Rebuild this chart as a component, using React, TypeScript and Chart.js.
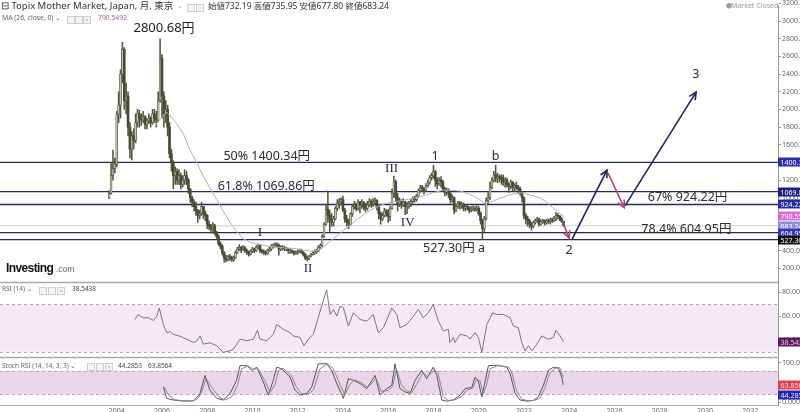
import React, { useEffect, useRef } from "react";
import { Chart, registerables } from "chart.js";

Chart.register(...registerables);

// ---------------- data ----------------
const START_YEAR = 2003;
const START_MONTH = 8; // September (0-based)
const FIRST_OPEN = 1000;

const closes = [
  1050, 1250, 1330, 1380,
  1950, 2050, 2400, 2680, 2100, 2150, 1800, 1550, 1700, 1650, 1850, 1950,
  1900, 1880, 1920, 1830, 1870, 1900, 1850, 1950, 1900, 1880, 2100, 2580,
  2150, 1950, 2000, 1800, 1500, 1400, 1250, 1300, 1200, 1250, 1150, 1200,
  1250, 1200, 1100, 1000, 950, 900, 850, 800, 820, 900, 820, 800,
  700, 680, 650, 680, 600, 560, 480, 450, 380, 320, 300, 330,
  320, 300, 320, 380, 420, 440, 410, 430, 400, 390, 360, 390,
  420, 400, 440, 460, 400, 390, 380, 370, 400, 420, 450, 460,
  470, 460, 420, 440, 430, 420, 420, 400, 400, 390, 370, 380,
  390, 400, 380, 360, 320, 310, 340, 360, 380, 390, 400, 440,
  460, 560, 700, 870, 800, 750, 720, 760, 880, 930, 950, 980,
  860, 760, 730, 700, 820, 900, 920, 880, 950, 920, 940, 900,
  880, 920, 960, 930, 950, 970, 900, 820, 760, 800, 850, 820,
  790, 880, 1050, 1180, 1000, 930, 960, 920, 950, 900, 920, 930,
  960, 990, 980, 1020, 1080, 1120, 1100, 1080, 1140, 1170, 1230, 1250,
  1300, 1200, 1160, 1200, 1180, 1100, 1060, 1080, 1050, 980, 1000, 860,
  900, 940, 920, 920, 880, 900, 890, 860, 870, 880, 870, 880,
  820, 740, 650, 760, 970, 1000, 1120, 1200, 1260, 1220, 1240, 1230,
  1210, 1180, 1200, 1150, 1130, 1180, 1120, 1140, 1120, 1100, 1060, 1000,
  800, 760, 740, 700, 680, 720, 740, 760, 700, 730, 740, 720,
  740, 730, 750, 740, 760, 800, 790, 760, 732.19, 683.24,
];

const highs = [
  1080, 1400, 1540, 1450,
  1980, 2200, 2450, 2760, 2700, 2300, 2200, 1850, 1750, 1780, 1950, 2000,
  1990, 1950, 1980, 1930, 1900, 1950, 1920, 2000, 2000, 1980, 2200, 2800.68,
  2620, 2200, 2100, 2050, 1850, 1550, 1420, 1350, 1330, 1320, 1280, 1250,
  1320, 1300, 1220, 1100, 1020, 980, 950, 870, 860, 950, 900, 850,
  810, 740, 700, 720, 700, 620, 580, 500, 470, 390, 350, 350,
  360, 340, 340, 400, 440, 470, 450, 460, 450, 420, 400, 410,
  440, 430, 460, 480, 470, 420, 410, 400, 420, 440, 470, 480,
  490, 490, 480, 460, 460, 450, 440, 430, 420, 410, 400, 400,
  410, 420, 420, 390, 370, 340, 350, 370, 390, 410, 420, 460,
  480, 580, 720, 920, 1078, 860, 820, 790, 900, 980, 990, 1000,
  1020, 880, 800, 760, 830, 920, 960, 940, 980, 960, 980, 960,
  940, 960, 990, 980, 990, 1000, 980, 920, 840, 830, 880, 870,
  870, 900, 1100, 1245, 1200, 1050, 1000, 980, 990, 960, 950, 960,
  980, 1010, 1020, 1040, 1100, 1140, 1140, 1120, 1160, 1200, 1250, 1280,
  1367, 1310, 1230, 1230, 1240, 1200, 1120, 1110, 1100, 1060, 1030, 1010,
  930, 960, 960, 950, 940, 920, 930, 900, 900, 910, 900, 910,
  900, 840, 760, 790, 1000, 1060, 1180, 1230, 1300, 1370, 1280, 1260,
  1260, 1260, 1230, 1220, 1170, 1200, 1180, 1160, 1180, 1140, 1120, 1070,
  1010, 820, 790, 760, 720, 740, 760, 780, 770, 750, 760, 750,
  760, 760, 770, 770, 790, 833, 820, 800, 780, 735.95,
];

const lows = [
  990, 1040, 1200, 1280,
  1350, 1850, 1900, 2300, 2000, 1950, 1700, 1450, 1430, 1550, 1620, 1800,
  1800, 1820, 1850, 1780, 1780, 1840, 1800, 1830, 1850, 1800, 1860, 2080,
  1900, 1800, 1850, 1700, 1450, 1300, 1100, 1150, 1150, 1150, 1100, 1120,
  1150, 1150, 1050, 950, 900, 850, 800, 720, 760, 800, 760, 740,
  650, 640, 600, 620, 580, 540, 460, 420, 350, 270, 275, 285,
  290, 280, 280, 310, 370, 400, 380, 400, 380, 360, 340, 350,
  380, 380, 390, 420, 380, 370, 360, 350, 360, 390, 400, 430,
  440, 440, 350, 400, 410, 400, 400, 370, 370, 370, 350, 360,
  360, 380, 370, 340, 300, 285, 300, 330, 350, 360, 370, 390,
  420, 450, 550, 690, 720, 620, 680, 680, 750, 850, 880, 920,
  840, 720, 680, 650, 690, 790, 870, 850, 860, 830, 880, 860,
  840, 860, 900, 890, 900, 920, 860, 760, 700, 740, 780, 790,
  720, 740, 870, 1000, 960, 850, 900, 880, 900, 810, 820, 880,
  900, 940, 950, 960, 1000, 1060, 1070, 1040, 1070, 1120, 1150, 1200,
  1220, 1130, 1100, 1140, 1120, 1080, 1020, 1030, 1000, 940, 950, 820,
  840, 880, 870, 880, 850, 850, 860, 830, 840, 850, 845, 850,
  800, 700, 527.3, 620, 750, 930, 980, 1100, 1180, 1180, 1170, 1180,
  1150, 1140, 1120, 1120, 1060, 1100, 1080, 1080, 1090, 1050, 1030, 950,
  760, 700, 680, 660, 632, 660, 700, 720, 680, 690, 710, 690,
  700, 710, 700, 720, 730, 740, 760, 740, 720, 677.8,
];

// MA(26): [year, value]
const maPoints = [
  [2005.72, 1820], [2005.95, 1900], [2006.2, 1970], [2006.45, 1900], [2006.65, 1840],
  [2006.95, 1720], [2007.24, 1541], [2007.55, 1390], [2007.83, 1243], [2008.1, 1120],
  [2008.42, 982], [2008.7, 850], [2009.01, 722], [2009.3, 620], [2009.6, 535],
  [2009.9, 495], [2010.19, 479], [2010.6, 455], [2011.07, 442], [2011.5, 430],
  [2011.96, 423], [2012.3, 405], [2012.6, 395], [2012.9, 405], [2013.13, 440],
  [2013.57, 535], [2013.87, 600], [2014.31, 688], [2014.7, 770], [2015.05, 833],
  [2015.4, 885], [2015.77, 926], [2016.15, 950], [2016.52, 964], [2016.9, 985],
  [2017.26, 1001], [2017.6, 1025], [2017.99, 1057], [2018.44, 1087], [2018.8, 1085],
  [2019.18, 1076], [2019.5, 1050], [2019.77, 1020], [2020.0, 985], [2020.21, 945],
  [2020.45, 948], [2020.65, 964], [2020.95, 995], [2021.24, 1020], [2021.55, 1045],
  [2021.83, 1057], [2022.1, 1045], [2022.42, 1020], [2022.7, 1000], [2023.01, 950],
  [2023.3, 880], [2023.6, 815], [2023.75, 790.55],
];

const rsiPoints = [
  [2004.81, 57.2], [2004.95, 61.4], [2005.17, 58.6], [2005.4, 58.6], [2005.62, 56.4],
  [2005.77, 60], [2005.88, 66.9], [2006.06, 53], [2006.21, 46.1], [2006.36, 47],
  [2006.5, 44.7], [2006.8, 43], [2007.09, 40.6], [2007.39, 37.8], [2007.54, 39],
  [2007.68, 43.3], [2007.83, 36.4], [2008.12, 37.5], [2008.42, 35], [2008.71, 29.4],
  [2009.01, 30.8], [2009.15, 32], [2009.45, 40.6], [2009.75, 39.2], [2010.04, 40.6],
  [2010.22, 48], [2010.33, 40.6], [2010.63, 39.2], [2010.92, 44.7], [2011.07, 53],
  [2011.36, 48.9], [2011.66, 46.1], [2011.81, 43.3], [2012.1, 42], [2012.28, 35],
  [2012.47, 40.6], [2012.69, 44.7], [2012.99, 64.2], [2013.28, 82.2], [2013.43, 61.4],
  [2013.58, 65.6], [2013.73, 60], [2013.87, 68.3], [2014.02, 67], [2014.24, 51.7],
  [2014.46, 62.8], [2014.76, 57.2], [2015.05, 55.8], [2015.34, 61.4], [2015.56, 46.1],
  [2015.79, 50.3], [2016.16, 66.9], [2016.38, 61.4], [2016.52, 50.3], [2016.82, 53],
  [2017.11, 60], [2017.33, 65.6], [2017.55, 58.6], [2017.77, 62.8], [2017.99, 69.7],
  [2018.22, 55.8], [2018.44, 47.5], [2018.66, 48.9], [2018.73, 37.8], [2018.88, 41.9],
  [2018.95, 37.8], [2019.18, 44.7], [2019.47, 43.3], [2019.62, 40.6], [2019.84, 46.1],
  [2019.99, 41.9], [2020.14, 29.4], [2020.36, 53], [2020.62, 62.8], [2020.8, 61.4],
  [2021.09, 61.4], [2021.39, 58.6], [2021.53, 51.7], [2021.75, 50.3], [2021.9, 37.8],
  [2022.05, 30.8], [2022.2, 35], [2022.35, 30.8], [2022.57, 36.4], [2022.79, 43.3],
  [2022.93, 41.9], [2023.08, 40.6], [2023.3, 41.9], [2023.41, 48], [2023.6, 43.3],
  [2023.74, 38.5438],
];

const stochK = [
  [2006.06, 39], [2006.21, 10], [2006.5, 5.8], [2006.94, 3], [2007.39, 4],
  [2007.54, 12], [2007.68, 22.5], [2007.9, 68], [2008.12, 30.8], [2008.42, 10],
  [2008.71, 5.8], [2009.01, 22.5], [2009.3, 55.8], [2009.45, 93], [2009.75, 93],
  [2009.97, 80.8], [2010.19, 89], [2010.48, 51.5], [2010.7, 18.3], [2010.92, 55.8],
  [2011.07, 89], [2011.29, 85], [2011.66, 64], [2011.88, 30.8], [2012.1, 18.3],
  [2012.4, 22.5], [2012.62, 39], [2012.91, 97.5], [2013.28, 98], [2013.5, 80.8],
  [2013.73, 47.5], [2014.02, 10], [2014.24, 60], [2014.46, 55.8], [2014.76, 47.5],
  [2015.05, 35], [2015.42, 68], [2015.64, 18.3], [2015.94, 35], [2016.16, 43],
  [2016.3, 97.5], [2016.52, 35], [2016.74, 26.5], [2016.97, 22.5], [2017.19, 55.8],
  [2017.48, 80.8], [2017.7, 60], [2017.99, 89], [2018.14, 70], [2018.37, 5.8],
  [2018.59, 3], [2018.88, 5.8], [2019.18, 18.3], [2019.4, 35], [2019.69, 37],
  [2019.84, 64], [2019.99, 52], [2020.14, 14], [2020.28, 52], [2020.43, 93],
  [2020.8, 94], [2021.24, 89], [2021.39, 72.5], [2021.61, 22.5], [2021.83, 5.8],
  [2022.13, 3], [2022.42, 5], [2022.64, 14], [2022.86, 43], [2023.08, 80.8],
  [2023.3, 89], [2023.52, 87], [2023.67, 64], [2023.74, 44.2853],
];

const stochD = [
  [2006.1, 38], [2006.3, 18], [2006.55, 7], [2006.94, 4], [2007.39, 4],
  [2007.6, 10], [2007.75, 25], [2007.95, 60], [2008.2, 38], [2008.5, 14],
  [2008.8, 6], [2009.1, 15], [2009.35, 45], [2009.52, 85], [2009.8, 92],
  [2010.03, 84], [2010.25, 85], [2010.55, 55], [2010.78, 25], [2011.0, 45],
  [2011.15, 80], [2011.35, 86], [2011.72, 68], [2011.95, 38], [2012.17, 22],
  [2012.45, 20], [2012.7, 32], [2012.98, 85], [2013.32, 97], [2013.56, 86],
  [2013.8, 55], [2014.08, 18], [2014.3, 45], [2014.5, 57], [2014.8, 50],
  [2015.1, 38], [2015.47, 60], [2015.7, 28], [2015.99, 30], [2016.2, 40],
  [2016.36, 85], [2016.58, 45], [2016.8, 30], [2017.03, 24], [2017.25, 45],
  [2017.53, 75], [2017.75, 65], [2018.04, 82], [2018.2, 75], [2018.43, 15],
  [2018.65, 5], [2018.93, 6], [2019.24, 14], [2019.45, 30], [2019.74, 36],
  [2019.9, 58], [2020.05, 55], [2020.2, 22], [2020.34, 42], [2020.5, 85],
  [2020.85, 93], [2021.3, 90], [2021.45, 78], [2021.67, 30], [2021.9, 8],
  [2022.18, 4], [2022.47, 5], [2022.7, 10], [2022.92, 35], [2023.13, 72],
  [2023.36, 86], [2023.58, 88], [2023.74, 63.8564],
];

const fibLevels = [1400.34, 1069.86, 924.22, 604.95, 527.3];
const currentPrice = 683.24;

// projected wave path drawn on the chart: [year, price] pairs
const arrowPaths = [
  [[2023.69, 744], [2024.0, 543]],
  [[2024.13, 531], [2025.67, 1313]],
  [[2025.72, 1280], [2026.43, 889]],
  [[2026.47, 911], [2029.61, 2196]],
];
const arrowKinds = ["down", "up", "down", "up"];

// chart annotations: text + anchor in [year, price]
const labelTexts = ["2800.68円", "50% 1400.34円", "61.8% 1069.86円", "III", "1", "b", "IV", "I", "II", "527.30円 a", "2", "3", "67% 924.22円", "78.4% 604.95円"];
const labelAnchors = [
  [2006.09, 2919], [2010.63, 1473], [2010.61, 1131], [2016.15, 1336], [2018.07, 1473],
  [2020.75, 1473], [2016.86, 722], [2010.33, 610], [2012.46, 200], [2018.91, 423],
  [2024.0, 405], [2029.6, 2398], [2029.23, 1001], [2029.18, 647],
];
const romanLabels = ["III", "IV", "I", "II"];

const yearTicks = [2004, 2006, 2008, 2010, 2012, 2014, 2016, 2018, 2020, 2022, 2024, 2026, 2028, 2030, 2032];
const priceTicks = [200, 400, 600, 800, 1000, 1200, 1400, 1600, 1800, 2000, 2200, 2400, 2600, 2800, 3000, 3200];
const rsiTicks = [40, 60, 80];
const stochTicks = [0, 100];

const axisMarkValues = [1400.34, 1069.86, 924.22, 790.5492, 683.24, 604.95, 527.3];
const rsiLast = 38.5438;
const stochLast = [63.8564, 44.2853];

// ---------------- styles ----------------
const FONT = '"Noto Sans", "Noto Sans CJK JP", sans-serif';
const X_MIN = 1998.84;
const X_MAX = 2033.23;
const axisMarkBg = ["#2d2da8", "#1d1d80", "#2a2aa6", "#e06ad8", "#8f8fcf", "#3636bd", "#111111"];
const axisMarkFg = ["#fff", "#fff", "#fff", "#fff", "#fff", "#fff", "#fff"];

function buildConfig() {
  const monthX = closes.map((_, i) => START_YEAR + (START_MONTH + i) / 12);
  const opens = closes.map((_, i) => (i === 0 ? FIRST_OPEN : closes[i - 1]));
  const up = closes.map((c, i) => c >= opens[i]);

  const datasets: any[] = [];
  fibLevels.forEach((v) => {
    datasets.push({
      type: "line", data: [{ x: X_MIN, y: v }, { x: X_MAX, y: v }], yAxisID: "y",
      borderColor: "#2a2a58", borderWidth: 1.3, pointRadius: 0, order: 6,
    });
  });
  datasets.push({
    type: "line", data: [{ x: X_MIN, y: currentPrice }, { x: X_MAX, y: currentPrice }], yAxisID: "y",
    borderColor: "#d0d0d0", borderWidth: 1, pointRadius: 0, order: 7,
  });
  datasets.push({
    type: "bar", data: monthX.map((x, i) => ({ x, y: [lows[i], highs[i]] })), yAxisID: "y",
    backgroundColor: "#50563f", barThickness: 0.9, grouped: false, order: 5,
  });
  datasets.push({
    type: "bar", data: monthX.map((x, i) => ({ x, y: [opens[i], closes[i]] })), yAxisID: "y",
    backgroundColor: up.map((u) => (u ? "#c4c7b6" : "#454c31")),
    borderColor: "#50563f", borderWidth: up.map((u) => (u ? 0.7 : 0)), borderSkipped: false,
    barThickness: 2, grouped: false, minBarLength: 1, order: 4,
  });
  datasets.push({
    type: "line", data: maPoints.map(([x, y]) => ({ x, y })), yAxisID: "y",
    borderColor: "#c3a7bd", borderWidth: 1, pointRadius: 0, order: 3,
  });
  arrowPaths.forEach((p, i) => {
    datasets.push({
      type: "line", data: p.map(([x, y]) => ({ x, y })), yAxisID: "y",
      borderColor: arrowKinds[i] === "up" ? "#23235a" : "#a84a7c", borderWidth: 1.6,
      pointRadius: 0, order: 1, arrow: true,
    });
  });
  datasets.push({
    type: "line", data: rsiPoints.map(([x, y]) => ({ x, y })), yAxisID: "yRsi",
    borderColor: "#7a7a7a", borderWidth: 1, pointRadius: 0, order: 2,
  });
  datasets.push({
    type: "line", data: stochD.map(([x, y]) => ({ x, y })), yAxisID: "yStoch",
    borderColor: "#8a8a8a", borderWidth: 1, pointRadius: 0, order: 2,
  });
  datasets.push({
    type: "line", data: stochK.map(([x, y]) => ({ x, y })), yAxisID: "yStoch",
    borderColor: "#555555", borderWidth: 1, pointRadius: 0, order: 2,
  });

  const tickFont = { family: FONT, size: 7 };
  const rightAxis = (stackWeight: number, min: number, max: number, ticks: number[]) => ({
    type: "linear", position: "right", stack: "panes", stackWeight, min, max,
    grid: { drawOnChartArea: false, drawTicks: true, tickLength: 3, color: "#999" },
    border: { display: true, color: "#9a9a9a", width: 1 },
    ticks: { font: tickFont, color: "#666", padding: 1, autoSkip: false, callback: (v: number) => Number(v).toFixed(4) },
    afterBuildTicks: (s: any) => { s.ticks = ticks.map((value) => ({ value })); },
    afterFit: (s: any) => { s.width = 22; },
  });

  const panelPlugin = {
    id: "panels",
    beforeDatasetsDraw(chart: any) {
      const { ctx, chartArea, scales } = chart;
      const rs = scales.yRsi, ss = scales.yStoch;
      const L = chartArea.left, W = chartArea.right - chartArea.left;
      ctx.save();
      const r70 = rs.getPixelForValue(70), r30 = rs.getPixelForValue(30);
      ctx.fillStyle = "#f3eaf3";
      ctx.fillRect(L, r70, W, r30 - r70);
      const s80 = ss.getPixelForValue(80), s20 = ss.getPixelForValue(20);
      ctx.fillStyle = "#ead5eb";
      ctx.fillRect(L, s80, W, s20 - s80);
      ctx.strokeStyle = "#b2aab2";
      ctx.lineWidth = 1;
      ctx.setLineDash([3, 3]);
      [r70, r30, s80, s20].forEach((y) => {
        ctx.beginPath(); ctx.moveTo(L, Math.round(y) + 0.5); ctx.lineTo(chartArea.right, Math.round(y) + 0.5); ctx.stroke();
      });
      ctx.setLineDash([]);
      ctx.strokeStyle = "#a8a8a8";
      ctx.lineWidth = 1.5;
      [rs.top, ss.top].forEach((y: number) => {
        ctx.beginPath(); ctx.moveTo(L, y); ctx.lineTo(chartArea.right, y); ctx.stroke();
      });
      ctx.restore();
    },
    afterDatasetsDraw(chart: any) {
      const { ctx, scales } = chart;
      const xs = scales.x, ys = scales.y;
      ctx.save();
      chart.data.datasets.forEach((ds: any, di: number) => {
        if (!ds.arrow) return;
        const pts = chart.getDatasetMeta(di).data;
        const a = pts[pts.length - 2], b = pts[pts.length - 1];
        const ang = Math.atan2(b.y - a.y, b.x - a.x);
        const len = 8;
        ctx.strokeStyle = ds.borderColor;
        ctx.lineWidth = 1.6;
        ctx.beginPath();
        ctx.moveTo(b.x - len * Math.cos(ang - 0.45), b.y - len * Math.sin(ang - 0.45));
        ctx.lineTo(b.x, b.y);
        ctx.lineTo(b.x - len * Math.cos(ang + 0.45), b.y - len * Math.sin(ang + 0.45));
        ctx.stroke();
      });
      ctx.textAlign = "center";
      ctx.textBaseline = "middle";
      labelTexts.forEach((t, i) => {
        const [x, y] = labelAnchors[i];
        const roman = romanLabels.includes(t);
        const size = i === 0 ? 13 : 12.5;
        ctx.font = roman ? `13px "Liberation Serif", serif` : `${size}px ${FONT}`;
        ctx.fillStyle = i === 0 ? "#1e1e1e" : "#2a2a3a";
        ctx.fillText(t, xs.getPixelForValue(x), ys.getPixelForValue(y));
      });
      ctx.restore();
    },
    afterDraw(chart: any) {
      const { ctx, scales, chartArea } = chart;
      const left = chartArea.right;
      ctx.save();
      const box = (y: number, text: string, bg: string, fg: string) => {
        ctx.fillStyle = bg;
        ctx.fillRect(left, Math.round(y) - 4.5, 24, 9);
        ctx.fillStyle = fg;
        ctx.font = `7px ${FONT}`;
        ctx.textAlign = "left";
        ctx.textBaseline = "middle";
        ctx.fillText(text, left + 2.5, Math.round(y) + 0.5);
      };
      axisMarkValues.forEach((v, i) => {
        box(scales.y.getPixelForValue(v), v.toFixed(2), axisMarkBg[i], axisMarkFg[i]);
      });
      box(scales.yRsi.getPixelForValue(rsiLast), rsiLast.toFixed(4), "#5b1d5e", "#f0c0f0");
      box(scales.yStoch.getPixelForValue(stochLast[0]) + 8, stochLast[0].toFixed(4), "#e2404e", "#ffe0e0");
      box(scales.yStoch.getPixelForValue(stochLast[1]) + 10, stochLast[1].toFixed(4), "#2626b4", "#e0e0ff");
      ctx.restore();
    },
  };

  return {
    type: "bar",
    data: { datasets },
    options: {
      responsive: false,
      animation: false,
      layout: { padding: 0 },
      plugins: { legend: { display: false }, tooltip: { enabled: false } },
      scales: {
        x: {
          type: "linear", position: "bottom", min: X_MIN, max: X_MAX, offset: false,
          grid: { display: false, drawTicks: false },
          border: { display: true, color: "#b0b0b0" },
          ticks: { font: tickFont, color: "#666", padding: 2, maxRotation: 0, autoSkip: false, callback: (v: number) => String(v) },
          afterBuildTicks: (s: any) => { s.ticks = yearTicks.map((value) => ({ value })); },
          afterFit: (s: any) => { s.height = 7; },
        },
        y: rightAxis(281, 40, 3180, priceTicks),
        yRsi: rightAxis(76, 25, 88.33, rsiTicks),
        yStoch: rightAxis(48, -6.75, 113.25, stochTicks),
      },
    },
    plugins: [panelPlugin],
  };
}

function Txt(props: { x: number; y: number; size: number; color?: string; weight?: number | string; family?: string; ls?: number; children: React.ReactNode }) {
  const { x, y, size, color = "#333", weight = 400, family = FONT, ls = 0, children } = props;
  return (
    <div
      style={{
        position: "absolute", left: x, top: y - size * 0.58, fontSize: size, lineHeight: 1,
        color, fontWeight: weight as any, fontFamily: family, whiteSpace: "nowrap", letterSpacing: ls,
      }}
    >
      {children}
    </div>
  );
}

function Icon(props: { x: number; y: number; cross?: boolean }) {
  return (
    <div
      style={{
        position: "absolute", left: props.x, top: props.y - 3.5, width: 6, height: 6,
        border: "1px solid #cfcfcf", background: "#f4f4f4", fontSize: 6, lineHeight: "6px",
        color: "#aaa", textAlign: "center", fontFamily: FONT,
      }}
    >
      {props.cross ? "×" : ""}
    </div>
  );
}

export default function App() {
  const ref = useRef<HTMLCanvasElement>(null);
  useEffect(() => {
    document.body.style.margin = "0";
    const chart = new Chart(ref.current as HTMLCanvasElement, buildConfig() as any);
    return () => chart.destroy();
  }, []);
  return (
    <div style={{ position: "relative", width: 800, height: 412, overflow: "hidden", background: "#fff" }}>
      <canvas ref={ref} width={800} height={412} style={{ position: "absolute", left: 0, top: 0, width: 800, height: 412 }} />
      <Txt x={1} y={6.5} size={9.5} color="#333">⊟ Topix Mother Market, Japan, 月, 東京</Txt>
      <Txt x={177} y={6.5} size={7} color="#aaa">⌄</Txt>
      <Icon x={187} y={7} />
      <Icon x={196} y={7} />
      <Txt x={208} y={6.5} size={8.5} color="#333">始値732.19 高値735.95 安値677.80 終値683.24</Txt>
      <Txt x={2} y={19} size={6.8} color="#666">MA (26, close, 0) ⌄</Txt>
      <Icon x={67} y={19} />
      <Icon x={75} y={19} />
      <Icon x={83} y={19} cross />
      <Txt x={98} y={19} size={6.8} color="#a864a8">790.5492</Txt>
      <Txt x={726} y={6.5} size={6} color="#999">●</Txt>
      <Txt x={731} y={6.5} size={7} color="#9a9a9a">Market Closed</Txt>
      <Txt x={6} y={268.5} size={12} weight={700} color="#111" family='"Liberation Sans", Arial, sans-serif' ls={-0.6}>Investing</Txt>
      <Txt x={56} y={270} size={8.5} color="#666" family='"Liberation Sans", Arial, sans-serif'>.com</Txt>
      <Txt x={2} y={290} size={6.5} color="#666">RSI (14) ⌄</Txt>
      <Icon x={39} y={290} />
      <Icon x={48} y={290} />
      <Icon x={57} y={290} cross />
      <Txt x={72} y={290} size={6.5} color="#444">38.5438</Txt>
      <Txt x={2} y={366.5} size={6.5} color="#666">Stoch RSI (14, 14, 3, 3) ⌄</Txt>
      <Icon x={87} y={366.5} />
      <Icon x={96} y={366.5} />
      <Icon x={105} y={366.5} cross />
      <Txt x={118} y={366.5} size={6.5} color="#444">44.2853</Txt>
      <Txt x={148} y={366.5} size={6.5} color="#444">63.8564</Txt>
    </div>
  );
}
